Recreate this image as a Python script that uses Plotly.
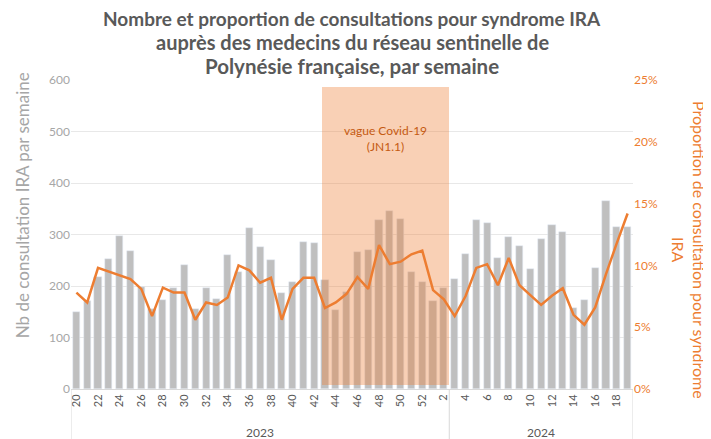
import plotly.graph_objects as go

# ---- data ----
weeks = [20, 21, 22, 23, 24, 25, 26, 27, 28, 29, 30, 31, 32, 33, 34, 35, 36, 37, 38, 39,
         40, 41, 42, 43, 44, 45, 46, 47, 48, 49, 50, 51, 52, 1, 2,
         3, 4, 5, 6, 7, 8, 9, 10, 11, 12, 13, 14, 15, 16, 17, 18, 19]
group_labels = ["2023", "2024"]
group_sizes = [35, 17]

counts = [150, 171, 218, 252, 297, 268, 199, 155, 173, 197, 240, 156, 197, 175, 261, 228, 312, 276, 250, 187,
          207, 285, 284, 212, 154, 188, 266, 269, 328, 345, 331, 227, 208, 171, 196,
          214, 263, 328, 322, 254, 296, 277, 233, 291, 319, 305, 158, 173, 234, 365, 315, 315]
proportion_pct = [7.8, 7.0, 9.8, 9.5, 9.2, 8.9, 8.1, 5.9, 8.2, 7.8, 7.8, 5.6, 7.0, 6.8, 7.4, 10.0, 9.6, 8.6, 9.0, 5.6,
                  8.1, 9.0, 9.0, 6.55, 7.0, 7.7, 9.06, 8.1, 11.65, 10.1, 10.3, 10.9, 11.2, 8.0, 7.25,
                  5.9, 7.5, 9.8, 10.1, 8.4, 10.6, 8.4, 7.6, 6.8, 7.55, 8.15, 6.0, 5.2, 6.6, 9.3, 11.8, 14.2]

title_lines = ["Nombre et proportion de consultations pour syndrome IRA",
               "auprès des medecins du réseau sentinelle de",
               "Polynésie française, par semaine"]
covid_label = "vague Covid-19<br>(JN1.1)"
covid_start_index = 23   # semaine 43 (2023)
covid_end_index = 34     # semaine 2 (2024)

left_ticks = [0, 100, 200, 300, 400, 500, 600]
right_ticks = [0, 0.05, 0.10, 0.15, 0.20, 0.25]

# ---- figure ----
idx = list(range(len(weeks)))
proportion = [p / 100 for p in proportion_pct]

GREY_TXT = "#A6A6A6"
ORANGE = "#ED7D31"

fig = go.Figure()
fig.add_trace(go.Bar(x=idx, y=counts, marker_color="#BFBFBF", width=0.66,
                     showlegend=False, hoverinfo="y"))

# covid shading (drawn over bars, under the line)
s0 = covid_start_index - 0.25
s1 = covid_end_index + 0.5
fig.add_trace(go.Bar(x=[(s0 + s1) / 2], y=[580], base=[7], width=[s1 - s0],
                     marker=dict(color="rgba(237,125,49,0.36)", line=dict(width=0)),
                     showlegend=False, hoverinfo="skip"))

fig.add_trace(go.Scatter(x=idx, y=proportion, yaxis="y2", mode="lines",
                         line=dict(color=ORANGE, width=2.5), showlegend=False))

fig.add_annotation(x=(s0 + s1) / 2, y=487, xref="x", yref="y", text=covid_label,
                   showarrow=False, font=dict(family="Lato", size=12, color="#C55A11"))

# title (one text per line to control spacing)
title_sizes = [19, 20, 20.5]
for k, line in enumerate(title_lines):
    fig.add_annotation(x=0.5, y=1.2006 - k * 0.0777, xref="paper", yref="paper",
                       xanchor="center", yanchor="middle", showarrow=False,
                       text="<b>" + line + "</b>",
                       font=dict(family="Lato", size=title_sizes[k], color="#595959"))

# group dividers and labels
n = len(weeks)
bounds = [-0.5]
for s in group_sizes:
    bounds.append(bounds[-1] + s)
for b in bounds:
    fig.add_shape(type="line", xref="x", yref="paper", x0=b, x1=b, y0=0, y1=-0.2,
                  line=dict(color="#D9D9D9", width=1))
for i, lab in enumerate(group_labels):
    fig.add_annotation(x=(bounds[i] + bounds[i + 1]) / 2, y=-0.142, xref="x", yref="paper",
                       text=lab, showarrow=False, yanchor="middle", xanchor="center",
                       font=dict(family="Lato", size=12, color="#595959"))

# axis titles
fig.add_annotation(x=-0.087, y=0.595, xref="paper", yref="paper", textangle=-90,
                   xanchor="center", yanchor="middle",
                   text="Nb de consultation IRA par semaine", showarrow=False,
                   font=dict(family="Lato", size=17, color=GREY_TXT))
fig.add_annotation(x=1.0996, y=0.45, xref="paper", yref="paper", textangle=90,
                   xanchor="center", yanchor="middle",
                   text="Proportion de consultation pour syndrome<br>IRA", showarrow=False,
                   font=dict(family="Lato", size=16, color=ORANGE))

# the page adds an 8px body margin: the figure is sized to fill the rest of the window
fig.update_layout(
    width=703, height=431,
    margin=dict(l=63, r=78, t=72, b=50),
    paper_bgcolor="white", plot_bgcolor="white",
    barmode="overlay", bargap=0,
    font=dict(family="Lato"),
    xaxis=dict(range=[-0.5, n - 0.5], tickmode="array",
               tickvals=idx[::2], ticktext=[str(w) for w in weeks[::2]],
               tickangle=-90, tickfont=dict(size=11, color="#595959"),
               showline=True, linecolor="#D9D9D9", showgrid=False, ticks="", zeroline=False),
    yaxis=dict(range=[0, 600], tickvals=left_ticks, showgrid=True, gridcolor="#E8E8E8",
               tickfont=dict(size=12, color=GREY_TXT), zeroline=False, ticks="",
               ticklen=0),
    yaxis2=dict(range=[0, 0.25], tickvals=right_ticks, tickformat=".0%",
                overlaying="y", side="right", showgrid=False, zeroline=False,
                tickfont=dict(size=12, color=ORANGE)),
)

fig.write_html("out.html")
